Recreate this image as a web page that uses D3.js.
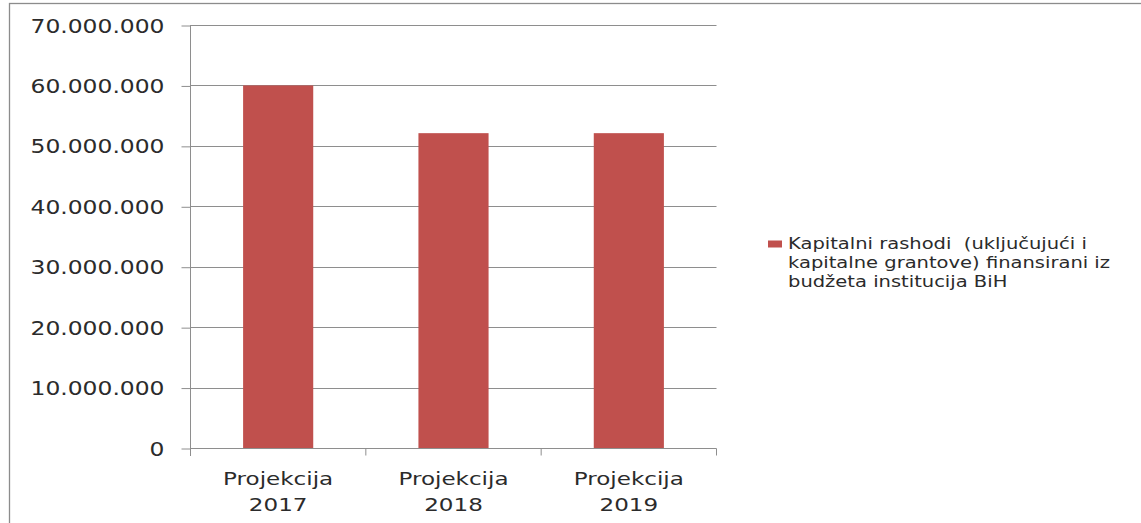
<!DOCTYPE html>
<html>
<head>
<meta charset="utf-8">
<script src="https://cdn.jsdelivr.net/npm/d3@7"></script>
<style>
  html, body { margin: 0; padding: 0; background: #fff; }
  svg { display: block; }
  text { font-family: "DejaVu Sans", sans-serif; fill: #2b2b2b; white-space: pre; }
</style>
</head>
<body>
<svg id="chart" width="1141" height="523"></svg>
<script>
// ---- data ----
const categories = [["Projekcija", "2017"], ["Projekcija", "2018"], ["Projekcija", "2019"]];
const values = [60000000, 52100000, 52100000];
const yTicks = [0, 10000000, 20000000, 30000000, 40000000, 50000000, 60000000, 70000000];
const yTickLabels = ["0", "10.000.000", "20.000.000", "30.000.000", "40.000.000", "50.000.000", "60.000.000", "70.000.000"];
const legendLines = ["Kapitalni rashodi  (uključujući i", "kapitalne grantove) finansirani iz", "budžeta institucija BiH"];

const svg = d3.select("#chart");

// chart frame
svg.append("rect")
  .attr("x", 9.5).attr("y", 3.5)
  .attr("width", 1200).attr("height", 600)
  .attr("fill", "#fff").attr("stroke", "#8c8c8c").attr("stroke-width", 1.3);

const x = d3.scaleBand()
  .domain(categories.map((d, i) => i))
  .range([190.5, 716.5])
  .paddingInner(0.6)
  .paddingOuter(0.3);

const y = d3.scaleLinear().domain([0, 70000000]).range([448, 25]);

function stretch(sel, f) {
  sel.each(function() {
    const w = this.getComputedTextLength();
    d3.select(this).attr("textLength", w * f).attr("lengthAdjust", "spacingAndGlyphs");
  });
}

// gridlines
svg.append("g").selectAll("line").data(yTicks.filter(d => d > 0)).join("line")
  .attr("x1", 190.5).attr("x2", 716.5)
  .attr("y1", d => Math.round(y(d)) + 0.5).attr("y2", d => Math.round(y(d)) + 0.5)
  .attr("stroke", "#8e8e8e").attr("stroke-width", 1);

// bars
svg.append("g").selectAll("rect").data(values).join("rect")
  .attr("x", (d, i) => x(i))
  .attr("width", x.bandwidth())
  .attr("y", d => y(d))
  .attr("height", d => y(0) - y(d))
  .attr("fill", "#C0504D");

// y axis
const yAxis = d3.axisLeft(y).tickValues(yTicks).tickSize(9).tickPadding(17)
  .tickFormat((d, i) => yTickLabels[i]);
const gy = svg.append("g").attr("transform", "translate(190.5,0)").call(yAxis);
gy.select(".domain").attr("stroke", "#8e8e8e").attr("d", "M0,25V456");
gy.selectAll(".tick line").attr("stroke", "#8e8e8e").attr("transform", "translate(0,0.5)");
gy.selectAll(".tick text")
  .style("font-family", '"DejaVu Sans", sans-serif')
  .style("font-size", "19.5px").attr("fill", "#2b2b2b").attr("dy", "0.36em");
stretch(gy.selectAll(".tick text"), 1.2);

// x axis
const gx = svg.append("g").attr("transform", "translate(0,448.5)");
gx.append("line").attr("x1", 190.5).attr("x2", 716.5).attr("stroke", "#8e8e8e");
const boundaries = [0, 1, 2, 3].map(i => x.range()[0] + i * x.step());
gx.selectAll(".xt").data(boundaries).join("line").attr("class", "xt")
  .attr("x1", d => d).attr("x2", d => d).attr("y1", 0).attr("y2", 7)
  .attr("stroke", "#8e8e8e");
const labels = gx.selectAll(".xl").data(categories).join("text").attr("class", "xl")
  .attr("text-anchor", "middle")
  .style("font-size", "18px");
labels.each(function(d, i) {
  const t = d3.select(this);
  const cx = x(i) + x.bandwidth() / 2;
  d.forEach((line, j) => {
    t.append("tspan").attr("x", cx).attr("y", 36.5 + j * 26).text(line);
  });
});
labels.selectAll("tspan").each(function() {
  const w = this.getComputedTextLength();
  d3.select(this).attr("textLength", w * 1.28).attr("lengthAdjust", "spacingAndGlyphs");
});

// legend
const lg = svg.append("g");
lg.append("rect").attr("x", 768).attr("y", 240.5).attr("width", 14).attr("height", 7).attr("fill", "#C0504D");
const lt = lg.selectAll("text").data(legendLines).join("text")
  .attr("x", 788).attr("y", (d, i) => 248.5 + i * 19)
  .style("font-size", "15px")
  .text(d => d);
stretch(lt, 1.3);
</script>
</body>
</html>
